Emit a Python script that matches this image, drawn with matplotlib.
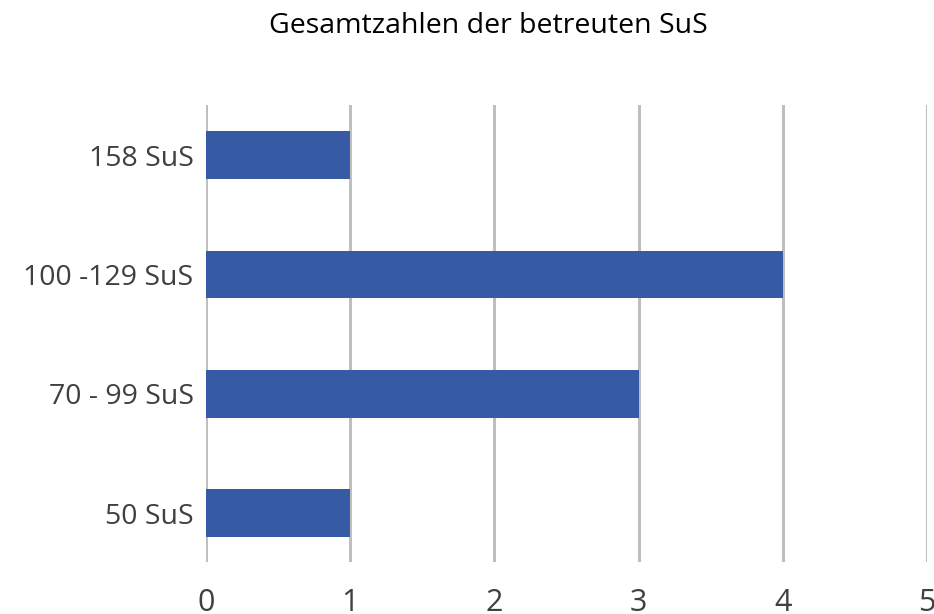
import matplotlib
matplotlib.use("Agg")
import matplotlib.pyplot as plt
import numpy as np

categories = ["50 SuS", "70 - 99 SuS", "100 -129 SuS", "158 SuS"]
values = [1, 3, 4, 1]
x_ticks = [0, 1, 2, 3, 4, 5]
title = "Gesamtzahlen der betreuten SuS"

plt.rcParams['font.family'] = ['Open Sans', 'DejaVu Sans']

fig = plt.figure(figsize=(9.34, 6.14), dpi=100)
ax = fig.add_axes([0.2206, 0.0847, 0.7719, 0.7443])

y = np.arange(len(categories))
ax.barh(y, values, height=0.40, color="#375AA5", zorder=3)

ax.set_xlim(0, 5)
ax.set_ylim(-0.41, 3.42)
ax.set_xticks(x_ticks)
ax.set_yticks(y)
ax.set_yticklabels(categories)

ax.grid(axis="x", color="#BFBFBF", linewidth=2.2, zorder=0)
ax.grid(axis="y", visible=False)
for s in ax.spines.values():
    s.set_visible(False)
ax.tick_params(axis="both", length=0, colors="#404040")
ax.tick_params(axis="x", pad=19, labelsize=22)
ax.tick_params(axis="y", pad=9, labelsize=20.5)

# title sits a bit right of centre in the original
fig.text(0.5225, 0.957, title, ha="center", va="center", fontsize=20.5, color="#000000")

fig.savefig("out.png", dpi=100)
